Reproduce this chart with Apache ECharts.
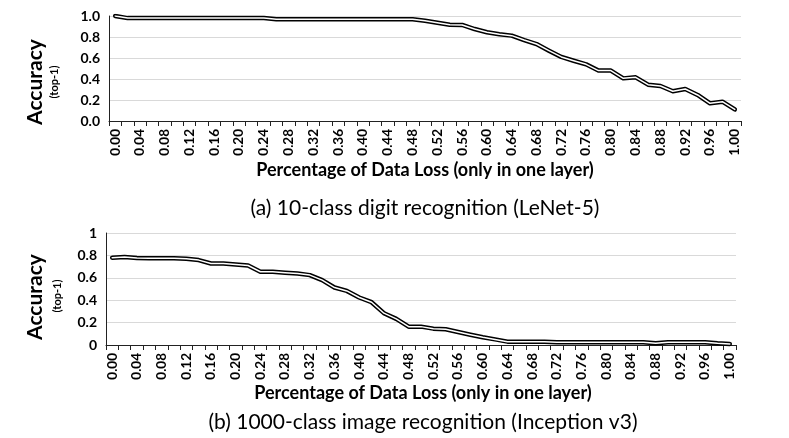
<!DOCTYPE html>
<html lang="en">
<head>
    <meta charset="UTF-8">
    <title>Accuracy vs data loss</title>
    <script src="https://cdn.jsdelivr.net/npm/echarts@6/dist/echarts.min.js"></script>
    <style>
        html, body { margin: 0; padding: 0; background: #fff; }
        #chart { width: 789px; height: 438px; }
    </style>
</head>
<body>
    <div id="chart"></div>

    <script>
        // x categories: fraction of data lost
        var lossPct = ['0.00','0.02','0.04','0.06','0.08','0.10','0.12','0.14','0.16','0.18',
                       '0.20','0.22','0.24','0.26','0.28','0.30','0.32','0.34','0.36','0.38',
                       '0.40','0.42','0.44','0.46','0.48','0.50','0.52','0.54','0.56','0.58',
                       '0.60','0.62','0.64','0.66','0.68','0.70','0.72','0.74','0.76','0.78',
                       '0.80','0.82','0.84','0.86','0.88','0.90','0.92','0.94','0.96','0.98','1.00'];

        // (a) LeNet-5 top-1 accuracy
        var lenetAcc = [1.00,
                        0.98,0.98,0.98,0.98,0.98,0.98,0.98,0.98,0.98,0.98,0.98,0.98,
                        0.97,0.97,0.97,0.97,0.97,0.97,0.97,0.97,0.97,0.97,0.97,0.97,
                        0.955,0.936,0.917,0.915,0.876,0.845,0.826,0.813,0.771,0.733,
                        0.670,0.610,0.574,0.540,0.480,0.480,0.406,0.416,0.346,0.333,
                        0.283,0.305,0.248,0.168,0.184,0.110];

        // (b) Inception v3 top-1 accuracy
        var inceptionAcc = [0.780,0.785,0.776,0.775,0.775,0.775,0.770,0.758,0.728,0.728,
                            0.719,0.710,0.654,0.653,0.645,0.638,0.624,0.579,0.513,0.483,
                            0.424,0.382,0.284,0.233,0.164,0.164,0.146,0.140,0.116,0.092,
                            0.069,0.050,0.030,0.030,0.030,0.030,0.025,0.025,0.025,0.025,
                            0.025,0.025,0.025,0.025,0.015,0.025,0.025,0.025,0.025,0.015,0.010];

        var yTicksA = ['0.0','0.2','0.4','0.6','0.8','1.0'];
        var yTicksB = ['0','0.2','0.4','0.6','0.8','1'];

        var FONT = 'Lato';

        function xAxisFor(gridIndex) {
            return {
                type: 'category',
                gridIndex: gridIndex,
                data: lossPct,
                boundaryGap: true,
                axisLine: { lineStyle: { color: '#222', width: 1 } },
                axisTick: { show: true, interval: 0, length: 5, lineStyle: { color: '#222' } },
                axisLabel: {
                    interval: 1, rotate: 90, margin: 8,
                    color: '#000', fontFamily: FONT, fontWeight: 'bold', fontSize: 13.5
                },
                splitLine: { show: false }
            };
        }

        function yAxisFor(gridIndex, labels) {
            return {
                type: 'value',
                gridIndex: gridIndex,
                min: 0, max: 1, interval: 0.2,
                axisLine: { show: true, lineStyle: { color: '#222', width: 1 } },
                axisTick: { show: false },
                axisLabel: {
                    margin: 9, color: '#000', fontFamily: FONT, fontWeight: 'bold', fontSize: 14,
                    formatter: function (v) { return labels[Math.round(v / 0.2)]; }
                },
                splitLine: { lineStyle: { color: '#d9d9d9', width: 1 } }
            };
        }

        // double-line look: thick black stroke with a thin white one on top
        function lineSeries(idx, data, color, width, z) {
            return {
                type: 'line', xAxisIndex: idx, yAxisIndex: idx,
                data: data, symbol: 'none', smooth: false, z: z,
                lineStyle: { color: color, width: width, cap: 'round', join: 'round' },
                animation: false
            };
        }

        function label(text, x, y, size, weight, rot) {
            return {
                type: 'text', x: x, y: y, rotation: rot || 0,
                style: {
                    text: text, fill: '#000', font: weight + ' ' + size + 'px ' + FONT,
                    textAlign: 'center', textVerticalAlign: 'middle'
                }
            };
        }

        var chart = echarts.init(document.getElementById('chart'));

        var option = {
            animation: false,
            grid: [
                { left: 109, right: 48, top: 16, height: 105 },
                { left: 106, right: 53, top: 233, height: 112 }
            ],
            xAxis: [xAxisFor(0), xAxisFor(1)],
            yAxis: [yAxisFor(0, yTicksA), yAxisFor(1, yTicksB)],
            series: [
                lineSeries(0, lenetAcc, '#000', 4.5, 2),
                lineSeries(0, lenetAcc, '#fff', 1.5, 3),
                lineSeries(1, inceptionAcc, '#000', 4.5, 2),
                lineSeries(1, inceptionAcc, '#fff', 1.5, 3)
            ],
            graphic: [
                label('Accuracy', 35, 82, 21, 'bold', Math.PI / 2),
                label('(top-1)', 54, 82, 11, 'bold', Math.PI / 2),
                label('Percentage of Data Loss (only in one layer)', 425, 170, 18, 'bold'),
                label('(a) 10-class digit recognition (LeNet-5)', 425, 208, 21, 'normal'),
                label('Accuracy', 35, 297, 21, 'bold', Math.PI / 2),
                label('(top-1)', 57, 296, 11, 'bold', Math.PI / 2),
                label('Percentage of Data Loss (only in one layer)', 423, 393, 18, 'bold'),
                label('(b) 1000-class image recognition (Inception v3)', 423, 422, 21, 'normal')
            ]
        };

        chart.setOption(option);
    </script>
</body>
</html>
